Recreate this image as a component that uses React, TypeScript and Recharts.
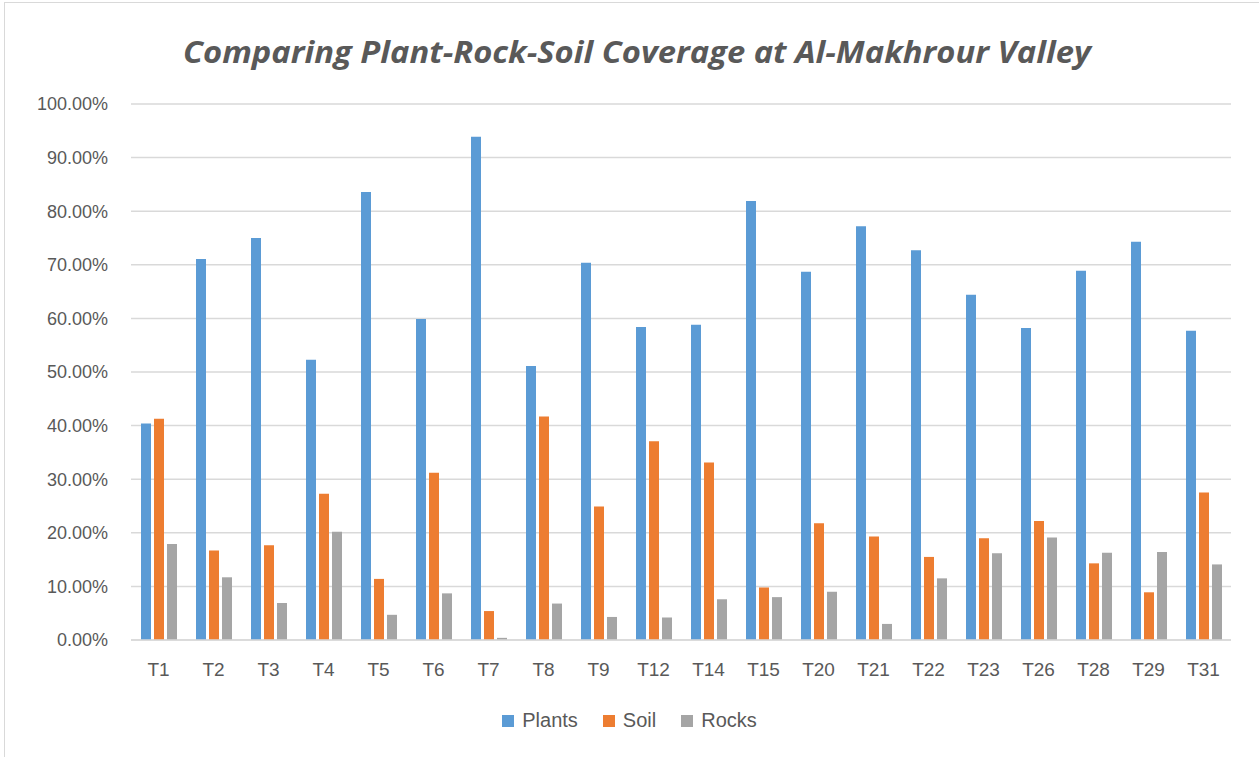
import React from "react";
import {
  BarChart,
  Bar,
  XAxis,
  YAxis,
  CartesianGrid,
  Legend,
} from "recharts";

// transect labels along the valley
const categories = ["T1", "T2", "T3", "T4", "T5", "T6", "T7", "T8", "T9", "T12", "T14", "T15", "T20", "T21", "T22", "T23", "T26", "T28", "T29", "T31"];
const plants = [40.4, 71.1, 75.0, 52.3, 83.6, 59.9, 93.9, 51.1, 70.4, 58.4, 58.8, 81.9, 68.7, 77.2, 72.7, 64.4, 58.2, 68.9, 74.3, 57.7];
const soil = [41.3, 16.7, 17.7, 27.3, 11.4, 31.2, 5.4, 41.7, 24.9, 37.1, 33.1, 9.8, 21.8, 19.3, 15.5, 19.0, 22.2, 14.3, 8.9, 27.5];
const rocks = [17.9, 11.7, 6.9, 20.2, 4.7, 8.7, 0.4, 6.8, 4.3, 4.2, 7.6, 8.0, 9.0, 3.0, 11.5, 16.2, 19.1, 16.3, 16.4, 14.1];
const yTicks = [0, 10, 20, 30, 40, 50, 60, 70, 80, 90, 100];

const series = [
  { key: "Plants", color: "#5B9BD5" },
  { key: "Soil", color: "#ED7D31" },
  { key: "Rocks", color: "#A5A5A5" },
];

const data = categories.map((name, i) => ({
  name,
  Plants: plants[i],
  Soil: soil[i],
  Rocks: rocks[i],
}));

const textColor = "#595959";
const font = "'Liberation Sans', Arial, sans-serif";

// legend in series order (recharts sorts by name otherwise)
const renderLegend = () => (
  <div style={{ display: "flex", justifyContent: "center", gap: 25, fontSize: 20, fontFamily: font, color: textColor }}>
    {series.map((s) => (
      <div key={s.key} style={{ display: "flex", alignItems: "center" }}>
        <span style={{ width: 12, height: 12, background: s.color, marginRight: 8, display: "inline-block" }} />
        <span>{s.key}</span>
      </div>
    ))}
  </div>
);

export default function App() {
  return (
    <div
      style={{
        position: "absolute",
        left: 0,
        top: 0,
        width: 1259,
        height: 757,
        overflow: "hidden",
        background: "#fff",
        fontFamily: font,
      }}
    >
      <div
        style={{
          position: "absolute",
          left: 4,
          top: 2,
          width: 1300,
          height: 800,
          border: "1.5px solid #d9d9d9",
        }}
      />
      <svg width={1259} height={90} style={{ position: "absolute", left: 0, top: 0 }}>
        <text
          x={183}
          y={63}
          textLength={908}
          lengthAdjust="spacingAndGlyphs"
          fontFamily="'Open Sans', sans-serif"
          fontWeight="bold"
          fontStyle="italic"
          fontSize={31}
          fill={textColor}
        >
          Comparing Plant-Rock-Soil Coverage at Al-Makhrour Valley
        </text>
      </svg>
      <div style={{ position: "absolute", left: 0, top: 0 }}>
        <BarChart
          width={1259}
          height={757}
          data={data}
          margin={{ top: 104, right: 28, left: 31, bottom: 64 }}
          barSize={10}
          barGap={3}
        >
          <CartesianGrid vertical={false} stroke="#d9d9d9" strokeWidth={1.5} />
          <XAxis
            dataKey="name"
            tickLine={false}
            axisLine={{ stroke: "#d9d9d9", strokeWidth: 1.5 }}
            tick={{ fill: textColor, fontSize: 19, fontFamily: font }}
            tickMargin={17}
            interval={0}
          />
          <YAxis
            width={100}
            domain={[0, 100]}
            ticks={yTicks}
            tickFormatter={(v: number) => `${v.toFixed(2)}%`}
            tickLine={false}
            axisLine={false}
            tick={{ fill: textColor, fontSize: 18, fontFamily: font }}
            tickMargin={17}
          />
          <Legend content={renderLegend} wrapperStyle={{ top: 709, left: 0, width: 1259 }} />
          {series.map((s) => (
            <Bar key={s.key} dataKey={s.key} fill={s.color} isAnimationActive={false} />
          ))}
        </BarChart>
      </div>
    </div>
  );
}
